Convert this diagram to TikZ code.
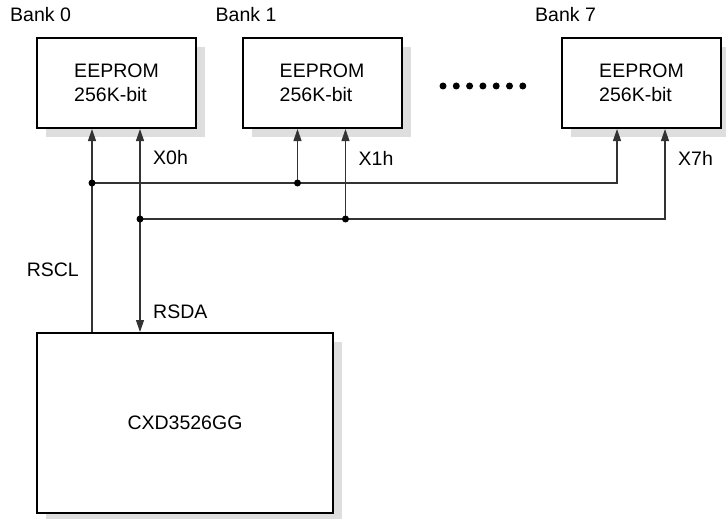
\documentclass[tikz,border=0pt]{standalone}
\usepackage{fontspec}
\setmainfont{Liberation Sans}
\usetikzlibrary{arrows.meta,positioning,shadows}

\tikzset{
  chip/.style={draw,line width=2pt,fill=white,align=left,
    minimum width=159pt,minimum height=90pt,
    drop shadow={shadow xshift=9pt,shadow yshift=-9pt,fill=black!13,opacity=1}},
  bus/.style={draw=black!80,line width=1.1pt},
  arr/.style={-{Triangle[length=12pt,width=8pt]}},
  jdot/.style={circle,fill,inner sep=0pt,minimum size=7pt},
  lbl/.style={inner sep=0pt}
}

\begin{document}
\begin{tikzpicture}[x=1pt,y=-1pt,font=\fontsize{19.5}{24}\selectfont]
  \useasboundingbox (0,0) rectangle (726,519);

  % EEPROM banks
  \foreach \n/\x/\b in {b0/116.5/0,b1/322/1,b7/641.5/7} {
    \node[chip] (\n) at (\x,83) {EEPROM\\256K-bit};
    \node[lbl,anchor=base west] (l\n) at ([shift={(-26,-15)}]\n.north west) {Bank \b};
    \coordinate (\n scl) at ([xshift=56]\n.south west);
    \coordinate (\n sda) at ([xshift=104]\n.south west);
    \node[lbl,anchor=west] (x\n) at ([shift={(13,29)}]\n sda) {X\b h};
  }

  % dots between banks
  \foreach \i in {0,...,6}
    \node[jdot] (d\i) at (443+\i*13.3,86) {};

  % host chip
  \node[chip,minimum width=296pt,minimum height=180pt,align=center] (cxd) at (185,423) {CXD3526GG};

  \coordinate (ck) at (0,183);
  \coordinate (da) at (0,219);

  % clock bus
  \draw[bus,arr] (cxd.north -| b0scl) -- (b0scl);
  \draw[bus,arr] (b0scl |- ck) -| (b7scl);
  \draw[bus,arr] (b1scl |- ck) -- (b1scl);
  \node[jdot] (j0) at (b0scl |- ck) {};
  \node[jdot] (j1) at (b1scl |- ck) {};

  % data bus
  \draw[bus,{Triangle[length=12pt,width=8pt]}-{Triangle[length=12pt,width=8pt]}] (b0sda) -- (cxd.north -| b0sda);
  \draw[bus,arr] (b0sda |- da) -| (b7sda);
  \draw[bus,arr] (b1sda |- da) -- (b1sda);
  \node[jdot] (k0) at (b0sda |- da) {};
  \node[jdot] (k1) at (b1sda |- da) {};

  \node[lbl,anchor=east] (rscl) at ([shift={(-13,270)}]b0scl |- 0,0) {RSCL};
  \node[lbl,anchor=west] (rsda) at ([shift={(13,312)}]b0sda |- 0,0) {RSDA};
\end{tikzpicture}
\end{document}
